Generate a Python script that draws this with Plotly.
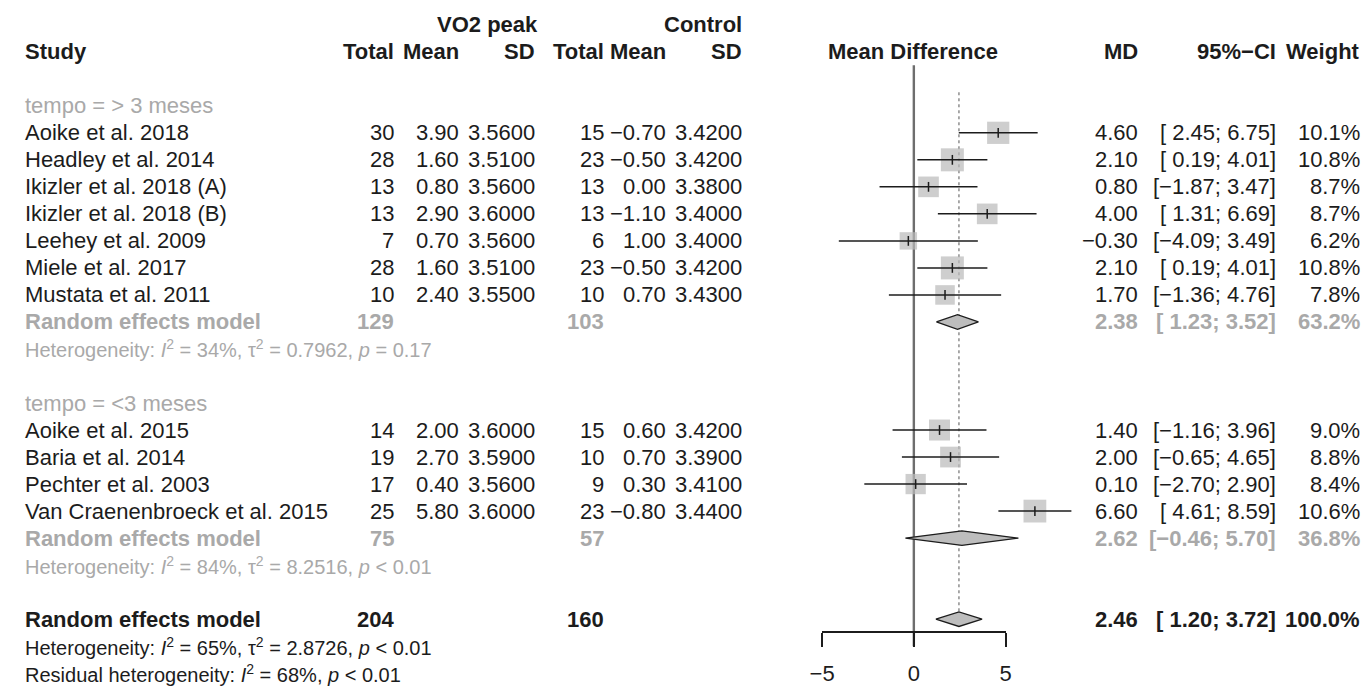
import plotly.graph_objects as go
import numpy as np

# ---------------- data ----------------
group_labels = ["tempo = > 3 meses", "tempo = <3 meses"]

names_g1 = ["Aoike et al. 2018", "Headley et al. 2014", "Ikizler et al. 2018 (A)",
            "Ikizler et al. 2018 (B)", "Leehey et al. 2009", "Miele et al. 2017",
            "Mustata et al. 2011"]
exp_n_g1 = [30, 28, 13, 13, 7, 28, 10]
exp_mean_g1 = [3.90, 1.60, 0.80, 2.90, 0.70, 1.60, 2.40]
exp_sd_g1 = [3.56, 3.51, 3.56, 3.60, 3.56, 3.51, 3.55]
ctl_n_g1 = [15, 23, 13, 13, 6, 23, 10]
ctl_mean_g1 = [-0.70, -0.50, 0.00, -1.10, 1.00, -0.50, 0.70]
ctl_sd_g1 = [3.42, 3.42, 3.38, 3.40, 3.40, 3.42, 3.43]
md_g1 = [4.60, 2.10, 0.80, 4.00, -0.30, 2.10, 1.70]
lo_g1 = [2.45, 0.19, -1.87, 1.31, -4.09, 0.19, -1.36]
hi_g1 = [6.75, 4.01, 3.47, 6.69, 3.49, 4.01, 4.76]
w_g1 = [10.1, 10.8, 8.7, 8.7, 6.2, 10.8, 7.8]

names_g2 = ["Aoike et al. 2015", "Baria et al. 2014", "Pechter et al. 2003",
            "Van Craenenbroeck et al. 2015"]
exp_n_g2 = [14, 19, 17, 25]
exp_mean_g2 = [2.00, 2.70, 0.40, 5.80]
exp_sd_g2 = [3.60, 3.59, 3.56, 3.60]
ctl_n_g2 = [15, 10, 9, 23]
ctl_mean_g2 = [0.60, 0.70, 0.30, -0.80]
ctl_sd_g2 = [3.42, 3.39, 3.41, 3.44]
md_g2 = [1.40, 2.00, 0.10, 6.60]
lo_g2 = [-1.16, -0.65, -2.70, 4.61]
hi_g2 = [3.96, 4.65, 2.90, 8.59]
w_g2 = [9.0, 8.8, 8.4, 10.6]

# subgroup + overall random effects
re_exp_n = [129, 75, 204]
re_ctl_n = [103, 57, 160]
re_md = [2.38, 2.62, 2.46]
re_lo = [1.23, -0.46, 1.20]
re_hi = [3.52, 5.70, 3.72]
re_w = [63.2, 36.8, 100.0]
het_i2 = [34, 84, 65]
het_tau2 = [0.7962, 8.2516, 2.8726]
het_p = ["= 0.17", "< 0.01", "< 0.01"]
resid_i2 = 68
resid_p = "< 0.01"
axis_ticks = [-5, 0, 5]

# ---------------- layout helpers ----------------
W, H = 1371, 686
X0_PX, UNIT_PX = 913.5, 18.6          # pixel of x=0, pixels per unit
Y0_PX, ROW_PX = 133.0, 27.06          # pixel of row 0, pixels per row
xr = [(0 - X0_PX) / UNIT_PX, (W - X0_PX) / UNIT_PX]
yr = [(H - Y0_PX) / ROW_PX, (0 - Y0_PX) / ROW_PX]

BLACK = "#1c1c1c"
GREY = "#a9a9a9"
FONT = "Liberation Sans"
FS = 22
FS_HET = 20

def px(x):
    return x / W

def mnum(v, d=2):
    return f"{v:.{d}f}".replace("-", "−")

def ci(lo, hi):
    l = mnum(lo)
    if lo >= 0:
        l = " " + l
    return f"[{l}; {mnum(hi)}]"

rows_g1 = list(range(0, 7))
rows_g2 = list(range(11, 15))
row_re = [7, 15, 18]
row_het = [8, 16, 19]
row_grp = [-1, 10]
row_resid = 20

ann = []

def txt(x, y, s, anchor="right", color=BLACK, bold=False, size=FS):
    if bold:
        s = f"<b>{s}</b>"
    ann.append(dict(x=px(x), y=y, xref="paper", yref="y", text=s, showarrow=False,
                    xanchor=anchor, yanchor="middle", borderpad=0,
                    font=dict(family=FONT, size=size, color=color)))

COL_NAME = 11
COL_ETOT, COL_EMEAN, COL_ESD = 387, 453, 530
COL_CTOT, COL_CMEAN, COL_CSD = 600, 663, 740
COL_MD, COL_CI, COL_W = 1142, 1282, 1367
COL_FOREST = 913

# headers
txt(COL_ESD + 3, -4, "VO2 peak", bold=True)
txt(COL_CSD, -4, "Control", bold=True)
txt(COL_NAME, -3, "Study", anchor="left", bold=True)
for c, s in [(COL_ETOT, "Total"), (COL_EMEAN, "Mean"), (COL_ESD, "SD"),
             (COL_CTOT, "Total"), (COL_CMEAN, "Mean"), (COL_CSD, "SD"),
             (COL_MD, "MD"), (COL_CI, "95%−CI"), (COL_W, "Weight")]:
    txt(c, -3, s, bold=True)
txt(COL_FOREST, -3, "Mean Difference", anchor="center", bold=True)

# group labels
for r, g in zip(row_grp, group_labels):
    txt(COL_NAME, r, g, anchor="left", color=GREY)

# study rows
groups = [
    (rows_g1, names_g1, exp_n_g1, exp_mean_g1, exp_sd_g1, ctl_n_g1, ctl_mean_g1, ctl_sd_g1, md_g1, lo_g1, hi_g1, w_g1),
    (rows_g2, names_g2, exp_n_g2, exp_mean_g2, exp_sd_g2, ctl_n_g2, ctl_mean_g2, ctl_sd_g2, md_g2, lo_g2, hi_g2, w_g2),
]
all_rows, all_md, all_lo, all_hi, all_w = [], [], [], [], []
for (rows, nm, en, em, es, cn, cm, cs, md, lo, hi, w) in groups:
    for i, r in enumerate(rows):
        txt(COL_NAME, r, nm[i], anchor="left")
        txt(COL_ETOT, r, str(en[i]))
        txt(COL_EMEAN, r, mnum(em[i]))
        txt(COL_ESD, r, mnum(es[i], 4))
        txt(COL_CTOT, r, str(cn[i]))
        txt(COL_CMEAN, r, mnum(cm[i]))
        txt(COL_CSD, r, mnum(cs[i], 4))
        txt(COL_MD, r, mnum(md[i]))
        txt(COL_CI, r, ci(lo[i], hi[i]))
        txt(COL_W, r, f"{w[i]:.1f}%")
    all_rows += rows; all_md += md; all_lo += lo; all_hi += hi; all_w += w

# random effects rows
for k in range(3):
    col = GREY if k < 2 else BLACK
    r = row_re[k]
    txt(COL_NAME, r, "Random effects model", anchor="left", color=col, bold=True)
    txt(COL_ETOT, r, str(re_exp_n[k]), color=col, bold=True)
    txt(COL_CTOT, r, str(re_ctl_n[k]), color=col, bold=True)
    txt(COL_MD, r, mnum(re_md[k]), color=col, bold=True)
    txt(COL_CI, r, ci(re_lo[k], re_hi[k]), color=col, bold=True)
    txt(COL_W, r, f"{re_w[k]:.1f}%", color=col, bold=True)
    het = (f"Heterogeneity: <i>I</i><sup>2</sup> = {het_i2[k]}%, "
           f"τ<sup>2</sup> = {het_tau2[k]:.4f}, <i>p</i> {het_p[k]}")
    txt(COL_NAME, row_het[k], het, anchor="left", color=col, size=FS_HET)
txt(COL_NAME, row_resid,
    f"Residual heterogeneity: <i>I</i><sup>2</sup> = {resid_i2}%, <i>p</i> {resid_p}",
    anchor="left", size=FS_HET)

# ---------------- traces ----------------
fig = go.Figure()

# squares
fig.add_trace(go.Scatter(
    x=all_md, y=all_rows, mode="markers",
    marker=dict(symbol="square", size=[7.0 * np.sqrt(v) for v in all_w],
                color="#b9b9b9", line=dict(width=0)),
    hoverinfo="skip", showlegend=False))

# CI lines
cx, cy = [], []
for r, lo, hi in zip(all_rows, all_lo, all_hi):
    cx += [lo, hi, None]
    cy += [r, r, None]
fig.add_trace(go.Scatter(x=cx, y=cy, mode="lines", line=dict(color=BLACK, width=1.5),
                         hoverinfo="skip", showlegend=False))

# point ticks
fig.add_trace(go.Scatter(
    x=all_md, y=all_rows, mode="markers",
    marker=dict(symbol="line-ns", size=7, line=dict(color=BLACK, width=1.5)),
    hoverinfo="skip", showlegend=False))

# diamonds
DH = 0.27
for k in range(3):
    r = row_re[k]
    fig.add_trace(go.Scatter(
        x=[re_lo[k], re_md[k], re_hi[k], re_md[k], re_lo[k]],
        y=[r, r - DH, r, r + DH, r],
        mode="lines", fill="toself", fillcolor="#bdbdbd",
        line=dict(color=BLACK, width=1.3),
        hoverinfo="skip", showlegend=False))

# dummy trace to activate bottom axis
fig.add_trace(go.Scatter(x=[None], y=[None], xaxis="x2", yaxis="y",
                         hoverinfo="skip", showlegend=False))

shapes = [
    dict(type="line", xref="x", yref="y", x0=0, x1=0, y0=-2.5, y1=19.0,
         line=dict(color="#6e6e6e", width=2.4), layer="below"),
    dict(type="line", xref="x", yref="y", x0=re_md[2], x1=re_md[2], y0=-1.5, y1=17.72,
         line=dict(color="#555555", width=1, dash="dot"), layer="below"),
]

fig.update_layout(
    width=W, height=H,
    margin=dict(l=0, r=0, t=0, b=0),
    paper_bgcolor="white", plot_bgcolor="rgba(0,0,0,0)",
    xaxis=dict(range=xr, visible=False, domain=[0, 1]),
    yaxis=dict(range=yr, visible=False, domain=[0, 1]),
    xaxis2=dict(domain=[(X0_PX - 5 * UNIT_PX) / W, (X0_PX + 5 * UNIT_PX) / W],
                range=[-5, 5], anchor="free", position=1 - 633 / H,
                tickvals=axis_ticks, ticks="outside", ticklen=14, tickwidth=1.5,
                tickcolor=BLACK, showline=True, linecolor=BLACK, linewidth=1.5,
                showgrid=False, zeroline=False, ticklabelstandoff=8,
                tickfont=dict(family=FONT, size=FS, color=BLACK)),
    annotations=ann,
    shapes=shapes,
    showlegend=False,
)

fig.write_html("out.html")
